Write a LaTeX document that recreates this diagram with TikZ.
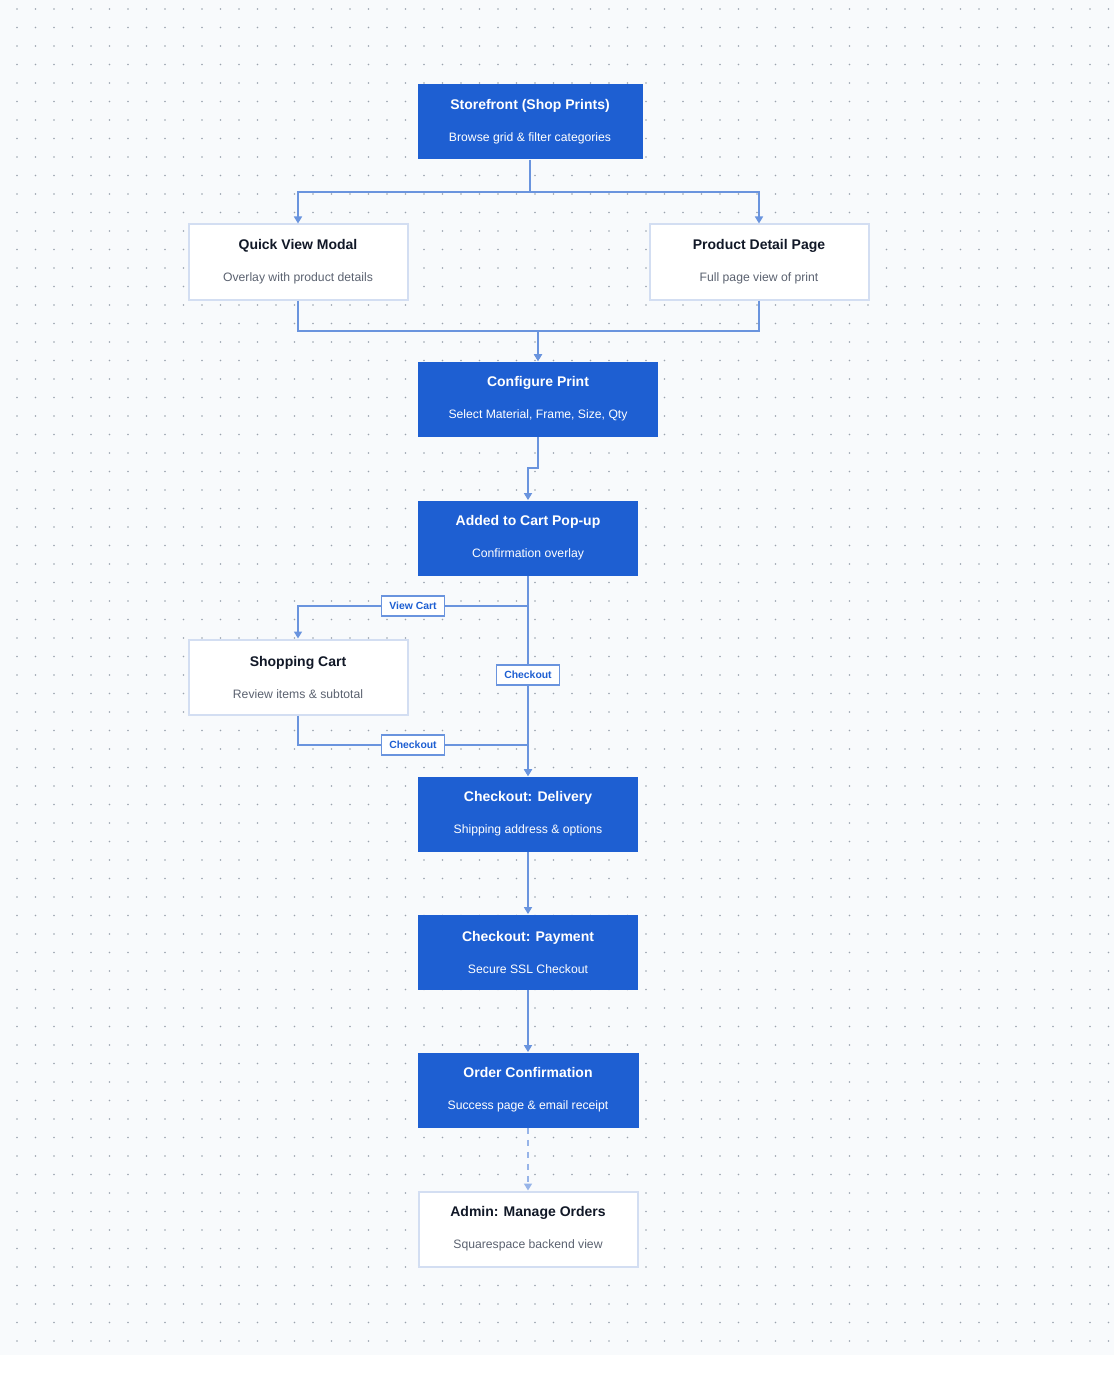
\documentclass[tikz,border=0pt]{standalone}
\usepackage{fontspec}
\setmainfont{Liberation Sans}
\usetikzlibrary{arrows.meta}
\definecolor{pagebg}{HTML}{F8FAFC}
\definecolor{dotgrey}{HTML}{9AA3AE}
\definecolor{stepblue}{HTML}{1E5FD2}
\definecolor{linkblue}{HTML}{6A94DE}
\definecolor{lightrim}{HTML}{D3DEF2}
\definecolor{darktext}{HTML}{111827}
\definecolor{greytext}{HTML}{5B6270}
\tikzset{
  flowstep/.style={fill=stepblue, minimum width=110pt, minimum height=37.5pt,
    align=center, text=white, inner sep=0pt},
  flowpage/.style={fill=white, draw=lightrim, line width=1pt, minimum width=109.5pt,
    minimum height=37.5pt, align=center, text=darktext, inner sep=0pt},
  link/.style={draw=linkblue, line width=0.8pt, -{Triangle[width=4pt,length=3.5pt]}},
  tag/.style={fill=white, draw=linkblue, line width=0.7pt, text=stepblue,
    font=\bfseries\fontsize{5.2}{6}\selectfont, inner xsep=4pt, inner ysep=3pt}
}
\newcommand{\boxtext}[2]{{\bfseries\fontsize{7}{8}\selectfont #1}\\[4pt]{\fontsize{6.1}{7}\selectfont #2}}
\newcommand{\pagetext}[2]{{\bfseries\fontsize{7}{8}\selectfont #1}\\[4pt]{\fontsize{6.1}{7}\selectfont\color{greytext} #2}}
\begin{document}
\begin{tikzpicture}[x=0.5pt,y=-0.5pt]
  \fill[pagebg] (0,0) rectangle (1114,1396);
  \fill[white] (0,1355) rectangle (1114,1396);
  % dotted grid
  \foreach \i in {0,...,59} {
    \foreach \j in {0,...,72} {
      \fill[dotgrey] (17+18.5*\i,9+18.5*\j) circle (0.45pt);
    }
  }

  \node[flowstep,minimum width=112.5pt] (shop) at (530,122) {\boxtext{Storefront (Shop Prints)}{Browse grid \& filter categories}};
  \node[flowpage] (quick) at (298,262) {\pagetext{Quick View Modal}{Overlay with product details}};
  \node[flowpage] (detail) at (759,262) {\pagetext{Product Detail Page}{Full page view of print}};
  \node[flowstep,minimum width=120pt] (config) at (538,399) {\boxtext{Configure Print}{Select Material, Frame, Size, Qty}};
  \node[flowstep] (added) at (528,538) {\boxtext{Added to Cart Pop-up}{Confirmation overlay}};
  \node[flowpage] (cart) at (298,677) {\pagetext{Shopping Cart}{Review items \& subtotal}};
  \node[flowstep] (delivery) at (528,814) {\boxtext{Checkout: Delivery}{Shipping address \& options}};
  \node[flowstep] (payment) at (528,952) {\boxtext{Checkout: Payment}{Secure SSL Checkout}};
  \node[flowstep,minimum width=110.5pt] (order) at (528,1090) {\boxtext{Order Confirmation}{Success page \& email receipt}};
  \node[flowpage] (admin) at (528,1229) {\pagetext{Admin: Manage Orders}{Squarespace backend view}};

  \coordinate (bend) at (538,468);
  \draw[link] (shop.south) |- (298,192) -- (quick.north);
  \draw[link] (shop.south) |- (759,192) -- (detail.north);
  \draw[link] (quick.south) |- (538,331) -- (config.north);
  \draw[link] (detail.south) |- (538,331) -- (config.north);
  \draw[link] (config.south) -- (bend) -| (added.north);
  \draw[link] (added.south) |- (298,606) -- (cart.north);
  \draw[link] (added.south) -- (delivery.north);
  \draw[link] (cart.south) |- (528,745) -- (delivery.north);
  \draw[link] (delivery) -- (payment);
  \draw[link] (payment) -- (order);
  \draw[link,dashed,draw=linkblue!70] (order) -- (admin);

  \node[tag] (lview) at (413,606) {View Cart};
  \node[tag] (lcheck) at (528,675) {Checkout};
  \node[tag] (lcart) at (413,745) {Checkout};
\end{tikzpicture}
\end{document}
